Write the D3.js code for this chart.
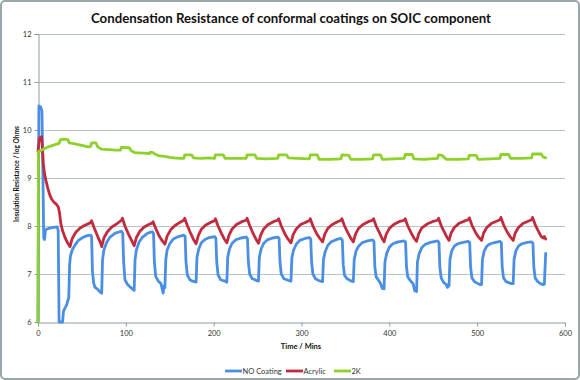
<!DOCTYPE html>
<html>
<head>
<meta charset="utf-8">
<script src="https://cdn.jsdelivr.net/npm/d3@7"></script>
<style>
  html, body { margin: 0; padding: 0; background: #ffffff; }
  svg { display: block; }
</style>
</head>
<body>
<svg id="chart" width="580" height="380"></svg>
<script>
// ---------------- DATA ----------------
const chartTitle = "Condensation Resistance of conformal coatings on SOIC component";
const xAxisTitle = "Time / Mins";
const yAxisTitle = "Insulation Resistance / log Ohms";
const seriesNames = ["NO Coating", "Acrylic", "2K"];
const xTicks = [0, 100, 200, 300, 400, 500, 600];
const yTicks = [6, 7, 8, 9, 10, 11, 12];

// [time (min), log Ohms]
const noCoating = [
  [0, 6.0], [1, 10.5], [3, 10.48], [4.5, 10.4], [5.5, 9.2], [6.5, 7.75], [7.5, 7.72], [8.5, 7.92], [12, 7.95], [18, 7.97], [22, 7.98], [23, 7.9],
  [24, 6.0], [28, 6.0], [29, 6.22], [31, 6.3], [32.5, 6.35], [34, 6.45], [35, 6.5], [36, 7.2], [37, 7.38], [39, 7.5], [42, 7.6], [46, 7.7], [51, 7.76], [56, 7.8], [60, 7.81],
  [61, 7.78], [62, 7.05], [63.5, 6.8], [65, 6.72], [68, 6.68], [71, 6.62], [72.5, 6.6],
  [73.5, 7.3], [75, 7.5], [78, 7.65], [82, 7.77], [88, 7.85], [95, 7.89],
  [96.5, 7.85], [97.5, 7.25], [99, 6.88], [102, 6.78], [105, 6.73], [108, 6.68], [109.5, 6.66],
  [110.5, 7.3], [112, 7.5], [115, 7.66], [119, 7.77], [125, 7.85], [130, 7.88],
  [131.5, 7.85], [132.5, 7.25], [134, 6.95], [137, 6.85], [140, 6.8], [142.5, 6.6], [143.5, 6.75], [144.5, 6.72],
  [145.5, 7.3], [147, 7.5], [150, 7.63], [154, 7.73], [160, 7.78], [166, 7.81],
  [167.5, 7.78], [168.5, 7.25], [170, 6.98], [173, 6.88], [176, 6.85], [178, 6.84], [180, 6.83],
  [181, 7.35], [183, 7.52], [186, 7.65], [190, 7.72], [195, 7.76], [201, 7.78],
  [202.5, 7.75], [203.5, 7.25], [205, 6.98], [208, 6.88], [211, 6.86], [213, 6.85], [215, 6.83],
  [216, 7.35], [218, 7.52], [221, 7.64], [225, 7.71], [231, 7.75], [237, 7.77],
  [238.5, 7.74], [239.5, 7.25], [241, 7.0], [244, 6.9], [247, 6.88], [249, 6.86], [251, 6.85],
  [252, 7.35], [254, 7.52], [257, 7.64], [261, 7.71], [267, 7.75], [273, 7.77],
  [274.5, 7.74], [275.5, 7.25], [277, 7.0], [280, 6.9], [283, 6.88], [286, 6.86], [288, 6.85],
  [289, 7.33], [291, 7.5], [294, 7.62], [298, 7.7], [304, 7.74], [309, 7.76],
  [310.5, 7.73], [311.5, 7.25], [313, 7.0], [316, 6.9], [319, 6.87], [322, 6.85], [324, 6.84],
  [325, 7.3], [327, 7.47], [330, 7.6], [334, 7.67], [340, 7.72], [345, 7.74],
  [346.5, 7.7], [347.5, 7.2], [349, 6.97], [352, 6.9], [355, 6.87], [357, 6.85], [359, 6.84],
  [360, 7.3], [362, 7.47], [365, 7.58], [369, 7.65], [375, 7.69], [381, 7.71],
  [382.5, 7.68], [383.5, 7.15], [385, 6.94], [388, 6.86], [390, 6.8], [392, 6.7], [394, 6.69],
  [395, 7.25], [397, 7.43], [400, 7.56], [404, 7.63], [410, 7.67], [417, 7.69],
  [418.5, 7.66], [419.5, 7.15], [421, 6.94], [424, 6.86], [427, 6.8], [429, 6.65], [430, 6.7], [431, 6.63],
  [432, 7.25], [434, 7.43], [437, 7.55], [441, 7.62], [447, 7.66], [455, 7.69],
  [456.5, 7.66], [457.5, 7.15], [459, 6.92], [462, 6.82], [465, 6.78], [466, 6.72], [468, 6.76],
  [469, 7.3], [471, 7.48], [474, 7.58], [478, 7.63], [484, 7.66], [490, 7.68],
  [491.5, 7.65], [492.5, 7.15], [494, 6.92], [497, 6.84], [500, 6.81], [503, 6.78], [505, 6.78],
  [506, 7.3], [508, 7.48], [511, 7.58], [515, 7.63], [521, 7.66], [526, 7.68],
  [527.5, 7.65], [528.5, 7.15], [530, 6.92], [533, 6.84], [536, 6.82], [539, 6.8], [541, 6.8],
  [542, 7.3], [544, 7.48], [547, 7.58], [551, 7.63], [557, 7.66], [562, 7.67],
  [563.5, 7.64], [564.5, 7.15], [566, 6.92], [569, 6.84], [572, 6.8], [575, 6.78], [576.5, 6.79], [578, 7.43]
];

const acrylic = [
  [0, 9.55], [1.5, 9.83], [4, 9.86], [5, 9.65], [6, 9.3], [7.5, 9.08], [9, 8.95], [11, 8.8], [13, 8.67], [15.5, 8.56], [18, 8.5], [21, 8.45], [23, 8.4],
  [24.5, 8.28], [26, 8.05], [28, 7.9], [31, 7.75], [34, 7.64], [36.5, 7.57],
  [39, 7.74], [43, 7.87], [48, 7.96], [54, 8.02], [60, 8.07], [61, 8.11],
  [64, 7.96], [68, 7.78], [71, 7.66], [72.5, 7.57],
  [75, 7.75], [79, 7.88], [84, 7.98], [90, 8.05], [95, 8.12], [96, 8.16],
  [99, 8.0], [103, 7.83], [106.5, 7.7], [109.5, 7.59],
  [112, 7.76], [116, 7.89], [121, 7.98], [126, 8.03], [130, 8.06], [131, 8.09],
  [134, 7.95], [138, 7.79], [141.5, 7.69], [144.5, 7.62],
  [147, 7.79], [151, 7.92], [156, 8.01], [162, 8.08], [166, 8.12], [167, 8.16],
  [170, 8.01], [174, 7.84], [177, 7.72], [180, 7.63],
  [182.5, 7.8], [186, 7.93], [191, 8.02], [197, 8.08], [201, 8.11], [202, 8.15],
  [205, 8.0], [209, 7.84], [212, 7.73], [215, 7.65],
  [217.5, 7.81], [221, 7.94], [226, 8.03], [232, 8.09], [237, 8.12], [238, 8.16],
  [241, 8.01], [245, 7.84], [248, 7.73], [251, 7.64],
  [253.5, 7.81], [257, 7.94], [262, 8.03], [268, 8.09], [273, 8.12], [274, 8.15],
  [277, 8.0], [281, 7.84], [284.5, 7.73], [288, 7.65],
  [290.5, 7.82], [294, 7.94], [299, 8.03], [305, 8.08], [309, 8.11], [310, 8.15],
  [313, 8.0], [317, 7.85], [320.5, 7.75], [324, 7.67],
  [326.5, 7.83], [330, 7.95], [335, 8.03], [341, 8.09], [345, 8.12], [346, 8.15],
  [349, 8.0], [353, 7.85], [356, 7.75], [359, 7.67],
  [361.5, 7.83], [365, 7.95], [370, 8.03], [376, 8.09], [381, 8.12], [382, 8.15],
  [385, 8.0], [389, 7.85], [391.5, 7.75], [394, 7.67],
  [396.5, 7.83], [400, 7.95], [405, 8.03], [411, 8.09], [417, 8.12], [418, 8.15],
  [421, 8.0], [425, 7.85], [428, 7.75], [431, 7.68],
  [433.5, 7.84], [437, 7.96], [443, 8.04], [449, 8.09], [455, 8.12], [456, 8.16],
  [459, 8.01], [463, 7.86], [465.5, 7.77], [468, 7.7],
  [470.5, 7.86], [474, 7.97], [479, 8.05], [485, 8.1], [490, 8.13], [491, 8.17],
  [494, 8.02], [498, 7.87], [501.5, 7.77], [505, 7.7],
  [507.5, 7.86], [511, 7.97], [516, 8.05], [522, 8.1], [526, 8.13], [527, 8.18],
  [530, 8.03], [534, 7.88], [537.5, 7.78], [541, 7.7],
  [543.5, 7.86], [547, 7.97], [552, 8.05], [558, 8.1], [562, 8.13], [563, 8.18],
  [566, 8.03], [570, 7.88], [573, 7.78], [575, 7.75], [576.5, 7.78], [578, 7.73]
];

const twoK = [
  [0, 6.0], [0.5, 9.55], [3, 9.57], [7, 9.61], [12, 9.65], [17, 9.68], [22, 9.71], [24, 9.72], [25.5, 9.8], [29, 9.81], [34, 9.8],
  [35.5, 9.73], [42, 9.71], [50, 9.68], [57, 9.65], [60, 9.66], [61, 9.73], [66, 9.73], [68, 9.65], [72, 9.6], [80, 9.59], [88, 9.58], [94, 9.58],
  [95, 9.64], [104, 9.63], [106, 9.57], [110, 9.53], [120, 9.52], [127, 9.51], [128, 9.54], [131, 9.53], [133, 9.5], [138, 9.46], [144, 9.45], [150, 9.43],
  [155, 9.42], [162, 9.41], [166, 9.41], [167, 9.48], [175, 9.48], [177, 9.42], [185, 9.41], [195, 9.42], [201, 9.41],
  [202, 9.48], [211, 9.48], [213, 9.41], [225, 9.41], [237, 9.41], [238, 9.48], [247, 9.48], [249, 9.41], [260, 9.4], [273, 9.41],
  [274, 9.48], [283, 9.48], [285, 9.42], [295, 9.41], [309, 9.4], [310, 9.48], [318, 9.48], [320, 9.39], [333, 9.39], [345, 9.4],
  [346, 9.48], [354, 9.47], [356, 9.39], [368, 9.39], [381, 9.4], [382, 9.48], [390, 9.48], [392, 9.39], [405, 9.4], [417, 9.41],
  [418, 9.49], [426, 9.49], [428, 9.4], [440, 9.39], [455, 9.41], [456, 9.48], [460, 9.47], [463, 9.42], [465, 9.39], [478, 9.39], [490, 9.4],
  [491, 9.47], [499, 9.47], [501, 9.39], [515, 9.4], [526, 9.41], [527, 9.49], [536, 9.49], [538, 9.41], [550, 9.41], [562, 9.42],
  [563, 9.5], [573, 9.5], [575, 9.44], [578, 9.42]
];

const seriesColors = ["#4A8FE4", "#C02C3E", "#8ED12B"];

// ---------------- CHART ----------------
const svg = d3.select("#chart");
const W = 580, H = 380;
const fontFam = "Lato, 'Open Sans', 'DejaVu Sans', sans-serif";

svg.append("rect")
  .attr("x", 1).attr("y", 1).attr("width", W - 2).attr("height", H - 2)
  .attr("rx", 4).attr("ry", 4)
  .attr("fill", "#ffffff").attr("stroke", "#9AA7AA").attr("stroke-width", 2);

const x = d3.scaleLinear().domain([0, 600]).range([38, 565]);
const y = d3.scaleLinear().domain([6, 12]).range([322, 34]);

// gridlines
svg.append("g").selectAll("line")
  .data(yTicks.filter(v => v > 6))
  .join("line")
  .attr("x1", x(0)).attr("x2", x(600))
  .attr("y1", d => Math.round(y(d)) + 0.5).attr("y2", d => Math.round(y(d)) + 0.5)
  .attr("stroke", "#B9C4C7").attr("stroke-width", 1);

// axes
const yAxis = svg.append("g")
  .attr("transform", `translate(${x(0) + 0.5},0)`)
  .call(d3.axisLeft(y).tickValues(yTicks).tickSize(4).tickPadding(3).tickFormat(d3.format("d")));
const xAxis = svg.append("g")
  .attr("transform", `translate(0,${Math.round(y(6)) + 0.5})`)
  .call(d3.axisBottom(x).tickValues(xTicks).tickSize(4).tickPadding(4).tickFormat(d3.format("d")));

[yAxis, xAxis].forEach(g => {
  g.select(".domain").attr("stroke", "#8E9C9F");
  g.selectAll(".tick line").attr("stroke", "#8E9C9F");
  g.selectAll(".tick text").attr("fill", "#333").style("font-family", fontFam).style("font-size", "7.5px");
});

// lines
const line = d3.line().x(d => x(d[0])).y(d => y(d[1]));
const allSeries = [noCoating, acrylic, twoK];
svg.append("g").selectAll("path")
  .data(allSeries)
  .join("path")
  .attr("d", d => line(d))
  .attr("fill", "none")
  .attr("stroke", (d, i) => seriesColors[i])
  .attr("stroke-width", 2.8)
  .attr("stroke-linejoin", "round")
  .attr("stroke-linecap", "round");

// title
svg.append("text")
  .attr("x", 291).attr("y", 23)
  .attr("text-anchor", "middle")
  .attr("textLength", 400).attr("lengthAdjust", "spacingAndGlyphs")
  .style("font-family", fontFam).style("font-weight", "bold").style("font-size", "14px")
  .attr("fill", "#111")
  .text(chartTitle);

// axis titles
svg.append("text")
  .attr("transform", `translate(19,${y(9) - 4}) rotate(-90)`)
  .attr("text-anchor", "middle")
  .attr("textLength", 96).attr("lengthAdjust", "spacingAndGlyphs")
  .style("font-family", fontFam).style("font-weight", "bold").style("font-size", "7.5px")
  .attr("fill", "#111")
  .text(yAxisTitle);

svg.append("text")
  .attr("x", 301).attr("y", 349)
  .attr("text-anchor", "middle")
  .style("font-family", fontFam).style("font-weight", "bold").style("font-size", "7.5px")
  .attr("fill", "#111")
  .text(xAxisTitle);

// legend
const legendX = [225, 286, 334];
const legend = svg.append("g").selectAll("g")
  .data(seriesNames)
  .join("g")
  .attr("transform", (d, i) => `translate(${legendX[i]},371)`);
legend.append("line")
  .attr("x1", 0).attr("x2", 17).attr("y1", 0).attr("y2", 0)
  .attr("stroke", (d, i) => seriesColors[i]).attr("stroke-width", 2.8);
legend.append("text")
  .attr("x", 17.5).attr("y", 2.7)
  .style("font-family", fontFam).style("font-size", "7.5px")
  .attr("fill", "#333")
  .text(d => d);
</script>
</body>
</html>
